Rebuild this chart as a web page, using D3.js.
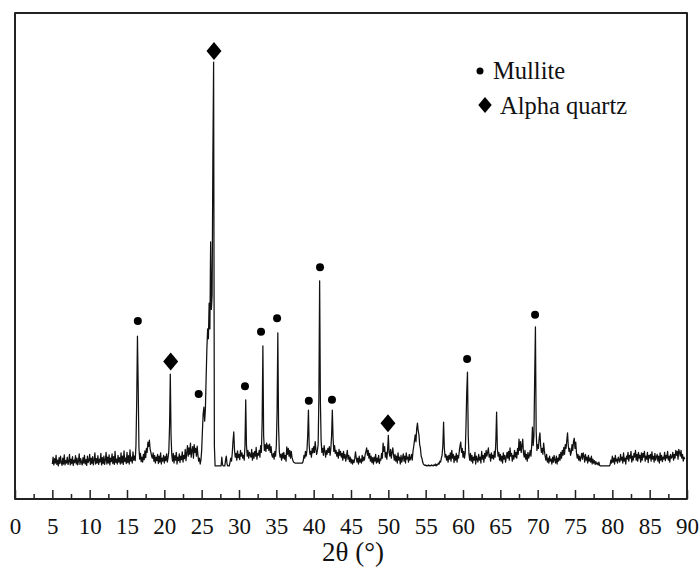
<!DOCTYPE html>
<html>
<head>
<meta charset="utf-8">
<script src="https://cdn.jsdelivr.net/npm/d3@7"></script>
<style>
  body { margin: 0; background: #fff; }
  svg { display: block; }
  text { font-family: "Liberation Serif", "Times New Roman", serif; fill: #111; }
</style>
</head>
<body>
<script>
// XRD pattern, 2theta from 5 to 89.7 deg, one value every 0.1 deg (one row per degree)
const startAngle = 5.0,
    angleStep = 0.1;

const intensity = [
  72, 86, 70, 83, 74, 90, 71, 80, 68, 85,        // 5
  73, 88, 75, 69, 84, 72, 91, 70, 79, 74,        // 6
  86, 71, 77, 92, 70, 82, 73, 87, 69, 80,        // 7
  75, 89, 72, 84, 70, 78, 93, 71, 83, 76,        // 8
  70, 85, 74, 90, 72, 81, 69, 88, 75, 79,        // 9
  92, 71, 84, 73, 87, 70, 80, 95, 72, 83,        // 10
  74, 89, 71, 82, 76, 94, 70, 85, 73, 88,        // 11
  71, 80, 96, 72, 86, 74, 91, 70, 84, 77,        // 12
  93, 73, 87, 71, 98, 75, 82, 72, 90, 76,        // 13
  85, 72, 95, 74, 88, 71, 99, 77, 84, 73,        // 14
  96, 75, 89, 72, 101, 78, 86, 74, 97, 80,       // 15
  88, 79, 110, 200, 335, 230, 105, 82, 94, 77,   // 16
  86, 76, 92, 81, 99, 85, 104, 96, 117, 108,     // 17
  121, 102, 96, 88, 84, 95, 78, 90, 74, 86,      // 18
  79, 92, 73, 88, 76, 95, 72, 84, 78, 90,        // 19
  74, 87, 79, 93, 76, 85, 98, 150, 257, 130,     // 20
  90, 78, 94, 74, 89, 80, 96, 72, 86, 79,        // 21
  93, 75, 88, 81, 97, 76, 90, 83, 102, 79,       // 22
  95, 110, 88, 105, 92, 115, 86, 100, 108, 84,   // 23
  112, 96, 104, 88, 109, 90, 78, 84, 72, 80,     // 24
  100, 140, 175, 189, 160, 185, 250, 310, 350, 330, // 25
  403, 350, 529, 390, 420, 700, 899, 110, 68, 68,   // 26
  68, 68, 68, 68, 68, 68, 68, 86, 70, 68,        // 27
  68, 68, 80, 88, 72, 68, 68, 68, 76, 84,        // 28
  78, 95, 120, 138, 100, 86, 94, 80, 99, 85,     // 29
  92, 81, 100, 88, 95, 84, 90, 80, 110, 204,     // 30
  110, 88, 100, 84, 96, 90, 86, 102, 80, 95,     // 31
  84, 98, 88, 106, 82, 94, 90, 100, 86, 110,     // 32
  96, 160, 315, 130, 100, 112, 98, 115, 104, 111, // 33
  100, 113, 96, 108, 90, 86, 94, 82, 98, 88,     // 34
  110, 180, 342, 150, 98, 86, 92, 80, 94, 84,    // 35
  96, 82, 90, 78, 107, 92, 104, 88, 100, 84,     // 36
  98, 86, 80, 76, 75, 74, 74, 74, 74, 74,        // 37
  74, 74, 74, 74, 74, 74, 78, 90, 84, 98,        // 38
  88, 100, 130, 183, 110, 92, 98, 86, 104, 95,   // 39
  108, 96, 118, 102, 92, 100, 112, 210, 449, 200, // 40
  120, 96, 104, 90, 110, 98, 86, 100, 92, 104,   // 41
  96, 108, 90, 104, 130, 183, 125, 98, 110, 94,  // 42
  100, 88, 96, 84, 102, 90, 98, 86, 94, 80,      // 43
  98, 84, 92, 78, 88, 100, 82, 90, 77, 86,       // 44
  74, 82, 72, 80, 75, 83, 97, 85, 76, 84,        // 45
  72, 88, 76, 82, 74, 90, 78, 86, 80, 92,        // 46
  98, 105, 90, 100, 84, 94, 78, 88, 75, 85,      // 47
  72, 86, 78, 92, 74, 84, 76, 90, 73, 82,        // 48
  80, 94, 84, 115, 98, 108, 86, 96, 82, 100,     // 49
  131, 96, 88, 102, 84, 96, 105, 90, 80, 92,     // 50
  78, 88, 74, 95, 80, 86, 72, 90, 76, 84,        // 51
  93, 78, 88, 74, 95, 82, 86, 76, 92, 80,        // 52
  84, 92, 80, 98, 108, 120, 132, 118, 145, 156,  // 53
  140, 132, 112, 104, 88, 84, 76, 72, 70, 69,    // 54
  70, 68, 69, 68, 70, 68, 69, 68, 70, 69,        // 55
  68, 70, 69, 72, 68, 71, 70, 74, 72, 78,        // 56
  76, 84, 90, 110, 158, 105, 86, 92, 80, 88,     // 57
  76, 90, 82, 95, 78, 100, 84, 92, 75, 88,       // 58
  80, 94, 76, 90, 84, 98, 110, 117, 96, 104,     // 59
  86, 98, 84, 95, 150, 220, 261, 130, 92, 80,    // 60
  94, 78, 90, 74, 86, 80, 96, 72, 88, 82,        // 61
  76, 92, 80, 86, 74, 98, 82, 90, 76, 94,        // 62
  84, 100, 88, 96, 105, 86, 92, 78, 95, 84,      // 63
  90, 82, 98, 86, 120, 179, 104, 88, 96, 80,     // 64
  92, 78, 88, 74, 95, 82, 90, 76, 86, 96,        // 65
  84, 98, 80, 105, 88, 94, 78, 90, 82, 100,      // 66
  86, 96, 84, 104, 92, 123, 100, 118, 96, 110,   // 67
  123, 94, 86, 100, 82, 92, 78, 96, 84, 90,      // 68
  100, 88, 110, 148, 110, 130, 250, 354, 140, 100, // 69
  112, 104, 125, 136, 110, 96, 104, 92, 115, 100, // 70
  88, 80, 92, 76, 84, 74, 88, 78, 82, 72,        // 71
  86, 76, 90, 80, 74, 88, 72, 84, 78, 92,        // 72
  80, 96, 84, 100, 90, 106, 92, 112, 104, 120,   // 73
  136, 110, 98, 104, 90, 96, 112, 100, 118, 125, // 74
  104, 117, 95, 84, 92, 80, 88, 78, 86, 94,      // 75
  82, 95, 88, 76, 92, 80, 86, 74, 90, 78,        // 76
  84, 76, 88, 72, 82, 74, 79, 71, 77, 72,        // 77
  74, 70, 76, 69, 68, 68, 68, 68, 68, 68,        // 78
  68, 68, 68, 68, 68, 68, 68, 70, 80, 74,        // 79
  88, 76, 84, 72, 90, 78, 82, 74, 86, 80,        // 80
  76, 92, 80, 86, 74, 95, 78, 84, 72, 88,        // 81
  82, 96, 78, 90, 84, 98, 76, 88, 80, 94,        // 82
  86, 100, 80, 92, 78, 96, 84, 90, 76, 95,       // 83
  80, 94, 86, 98, 78, 88, 82, 96, 75, 90,        // 84
  84, 92, 78, 97, 82, 88, 76, 94, 80, 86,        // 85
  92, 78, 88, 74, 95, 80, 90, 77, 86, 82,        // 86
  96, 79, 90, 84, 98, 80, 88, 76, 92, 84,        // 87
  86, 96, 80, 92, 84, 100, 90, 98, 82, 102,      // 88
  96, 88, 100, 84, 92, 78, 86, 82                // 89
];

// phase markers: angle and height (same units as intensity)
const mulliteAngles = [16.45, 24.6, 30.8, 32.95, 35.1, 39.35, 40.85, 42.45, 60.55, 69.65];
const mulliteLevels = [366, 216, 232, 344, 372, 202, 477, 204, 288, 379];
const quartzAngles = [20.85, 26.65, 49.95];
const quartzLevels = [283, 922, 156];

const majorTicks = [0, 5, 10, 15, 20, 25, 30, 35, 40, 45, 50, 55, 60, 65, 70, 75, 80, 85, 90];
const minorTicks = [2.5, 7.5, 12.5, 17.5, 22.5, 27.5, 32.5, 37.5, 42.5, 47.5, 52.5, 57.5, 62.5, 67.5, 72.5, 77.5, 82.5, 87.5];
const legendLabels = ["Mullite", "Alpha quartz"];
const xTitle = "2θ (°)";

const width = 700, height = 570;
const plotLeft = 15, plotRight = 687, plotTop = 13, plotBottom = 499;

const svg = d3.select("body").append("svg")
    .attr("width", width)
    .attr("height", height);

const x = d3.scaleLinear().domain([0, 90]).range([plotLeft, plotRight]);
const y = d3.scaleLinear().domain([0, 1000]).range([plotBottom, plotTop]);

const points = intensity.map((v, i) => ({a: startAngle + i * angleStep, v: v}));

// the trace
svg.append("path")
    .datum(points)
    .attr("fill", "none")
    .attr("stroke", "#111")
    .attr("stroke-width", 1.25)
    .attr("stroke-linejoin", "round")
    .attr("d", d3.line().x(d => x(d.a)).y(d => y(d.v)));

// axes (ticks point into the plot)
const major = svg.append("g")
    .attr("transform", "translate(0," + plotBottom + ")")
    .call(d3.axisBottom(x).tickValues(majorTicks).tickSize(-9).tickFormat(d3.format("d")));
const minor = svg.append("g")
    .attr("transform", "translate(0," + plotBottom + ")")
    .call(d3.axisBottom(x).tickValues(minorTicks).tickSize(-5).tickFormat(""));

[major, minor].forEach(g => {
    g.select(".domain").remove();
    g.selectAll(".tick line").attr("stroke", "#222").attr("stroke-width", 1.5);
});
major.selectAll(".tick text")
    .attr("y", 35)
    .attr("dy", 0)
    .attr("font-size", 23)
    .attr("fill", "#111");

// frame
svg.append("rect")
    .attr("x", plotLeft)
    .attr("y", plotTop)
    .attr("width", plotRight - plotLeft)
    .attr("height", plotBottom - plotTop)
    .attr("fill", "none")
    .attr("stroke", "#222")
    .attr("stroke-width", 2)
    .attr("stroke-linejoin", "round");

svg.append("text")
    .attr("x", 353)
    .attr("y", 561)
    .attr("text-anchor", "middle")
    .attr("font-size", 27)
    .text(xTitle);

// peak markers
const diamond = "M0,-9L7.5,0L0,9L-7.5,0Z";

svg.append("g").selectAll("circle")
    .data(mulliteAngles)
    .enter().append("circle")
    .attr("cx", d => x(d))
    .attr("cy", (d, i) => y(mulliteLevels[i]))
    .attr("r", 4)
    .attr("fill", "#000");

svg.append("g").selectAll("path")
    .data(quartzAngles)
    .enter().append("path")
    .attr("transform", (d, i) => "translate(" + x(d) + "," + y(quartzLevels[i]) + ")")
    .attr("d", diamond)
    .attr("fill", "#000");

// legend
const legend = svg.append("g").attr("transform", "translate(480,0)");
legend.append("circle").attr("cx", 0).attr("cy", 71).attr("r", 3.5).attr("fill", "#000");
legend.append("path").attr("transform", "translate(5,105) scale(0.9)").attr("d", diamond).attr("fill", "#000");
legend.selectAll("text")
    .data(legendLabels)
    .enter().append("text")
    .attr("x", (d, i) => i ? 20 : 13)
    .attr("y", (d, i) => i ? 114 : 79)
    .attr("font-size", 24.5)
    .text(d => d);
</script>
</body>
</html>
